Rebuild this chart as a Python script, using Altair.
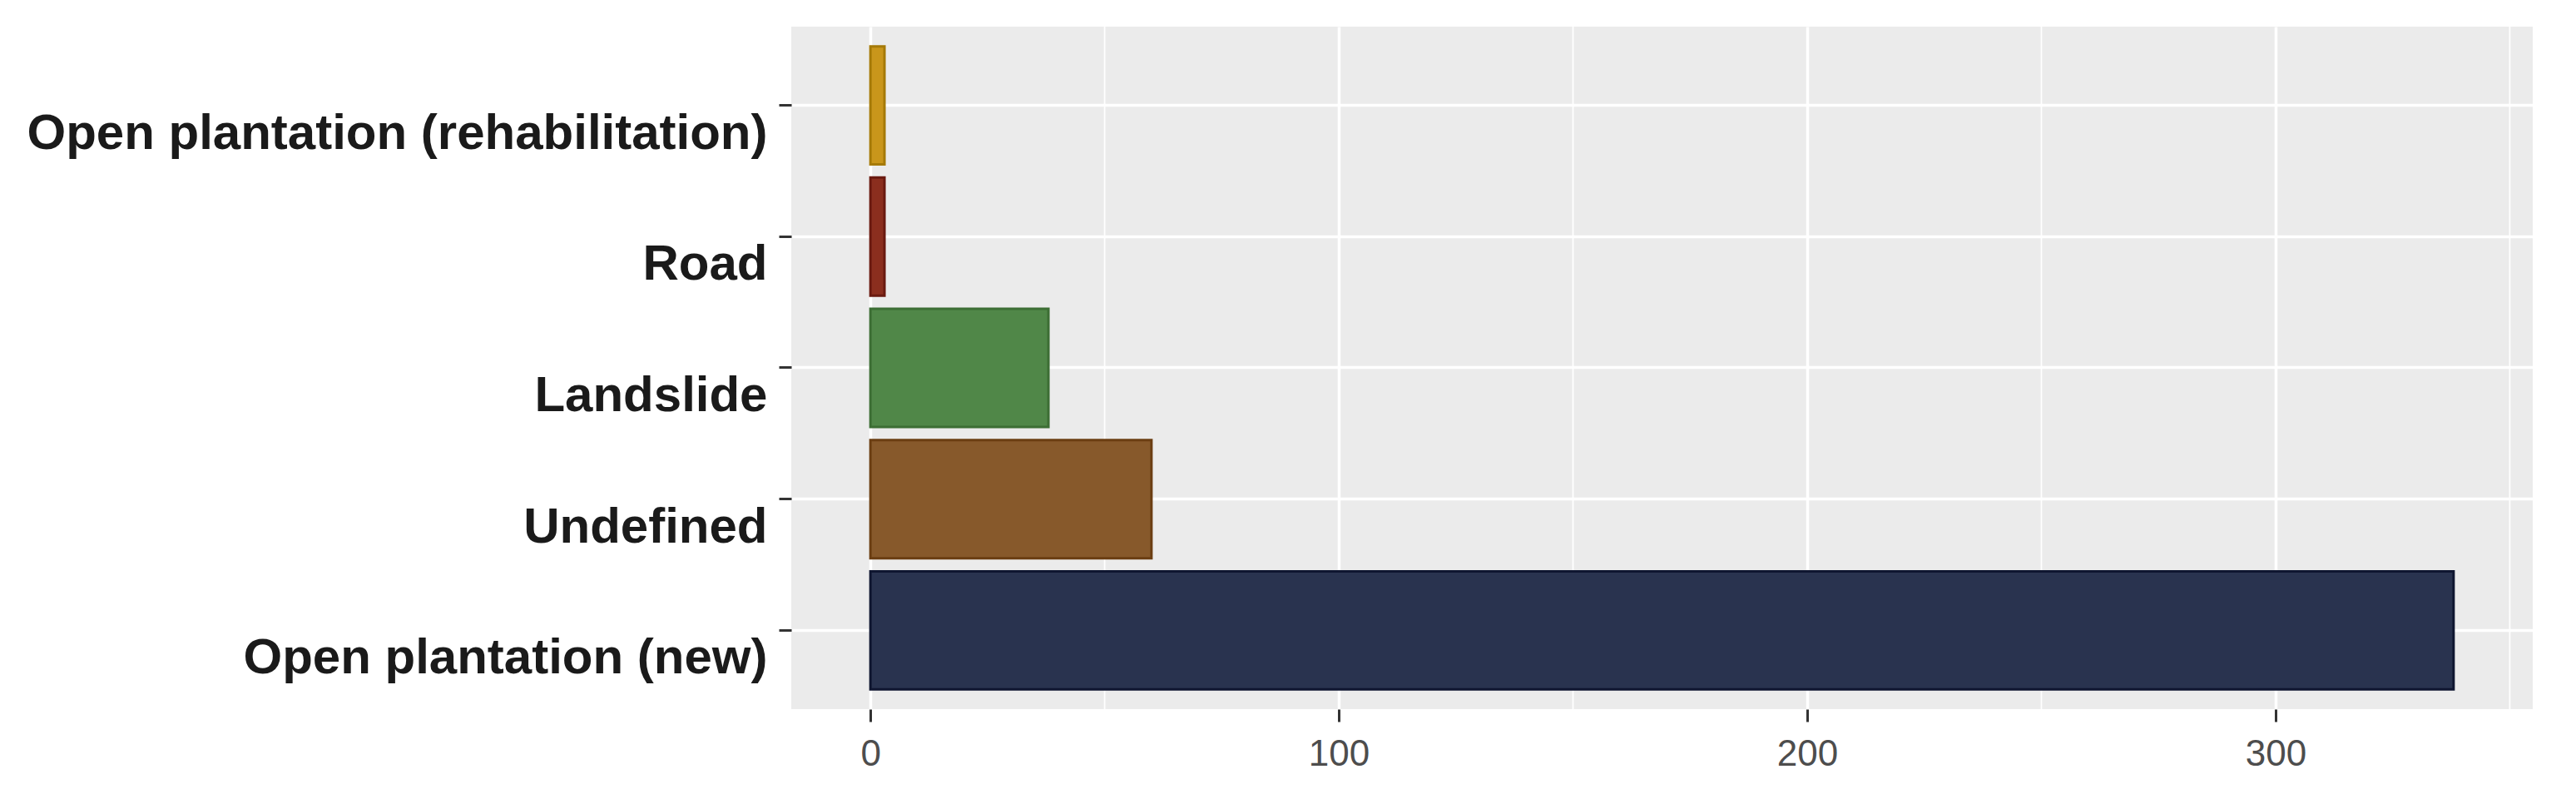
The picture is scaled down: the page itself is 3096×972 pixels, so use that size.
import altair as alt
import pandas as pd

categories = [
    "Open plantation (rehabilitation)",
    "Road",
    "Landslide",
    "Undefined",
    "Open plantation (new)",
]
counts = [3, 3, 38, 60, 338]
fill_colors = ["#C9961B", "#8B2E1E", "#508748", "#87592B", "#29334F"]
stroke_colors = ["#A57A08", "#6A1A10", "#3C6E34", "#6B3E12", "#0F1630"]
major_ticks = [0, 100, 200, 300]
minor_ticks = [50, 150, 250, 350]

df = pd.DataFrame({"category": categories, "count": counts})
minor_df = pd.DataFrame({"v": minor_ticks})

x_domain = [-0.05 * max(counts), 1.05 * max(counts)]
xscale = alt.Scale(domain=x_domain, nice=False, zero=False)

x_axis = alt.Axis(
    values=major_ticks,
    title=None,
    grid=True,
    gridColor="white",
    gridWidth=3.5,
    domain=False,
    tickSize=15,
    tickWidth=3,
    tickColor="#333333",
    labelFont="Liberation Sans",
    labelFontSize=44,
    labelColor="#4D4D4D",
    labelPadding=17,
)

minor = alt.Chart(minor_df).mark_rule(color="white", strokeWidth=1.8).encode(
    x=alt.X("v:Q", scale=xscale, axis=x_axis)
)

bars = alt.Chart(df).mark_bar(strokeWidth=3).encode(
    x=alt.X("count:Q", scale=xscale, axis=x_axis),
    x2=alt.datum(0),
    y=alt.Y(
        "category:N",
        sort=categories,
        scale=alt.Scale(paddingInner=0.1, paddingOuter=0.15),
        axis=alt.Axis(
            title=None,
            grid=True,
            gridColor="white",
            gridWidth=3.5,
            bandPosition=0.5,
            domain=False,
            tickSize=15,
            tickWidth=3,
            tickColor="#333333",
            labelFont="Liberation Sans",
            labelFontSize=60,
            labelFontWeight="bold",
            labelColor="#1A1A1A",
            labelPadding=14,
            labelOffset=34,
            labelLimit=3000,
        ),
    ),
    color=alt.Color(
        "category:N",
        scale=alt.Scale(domain=categories, range=fill_colors),
        legend=None,
    ),
    stroke=alt.Stroke(
        "category:N",
        scale=alt.Scale(domain=categories, range=stroke_colors),
        legend=None,
    ),
)

chart = (
    alt.layer(minor, bars)
    .properties(
        width=2093,
        height=820,
        autosize=alt.AutoSizeParams(type="none"),
        padding={"left": 943, "top": 24, "right": 40, "bottom": 110},
        background="white",
    )
    .configure_view(fill="#EBEBEB", strokeWidth=0)
)

chart.save("out.html", embed_options={"renderer": "svg", "actions": False})
